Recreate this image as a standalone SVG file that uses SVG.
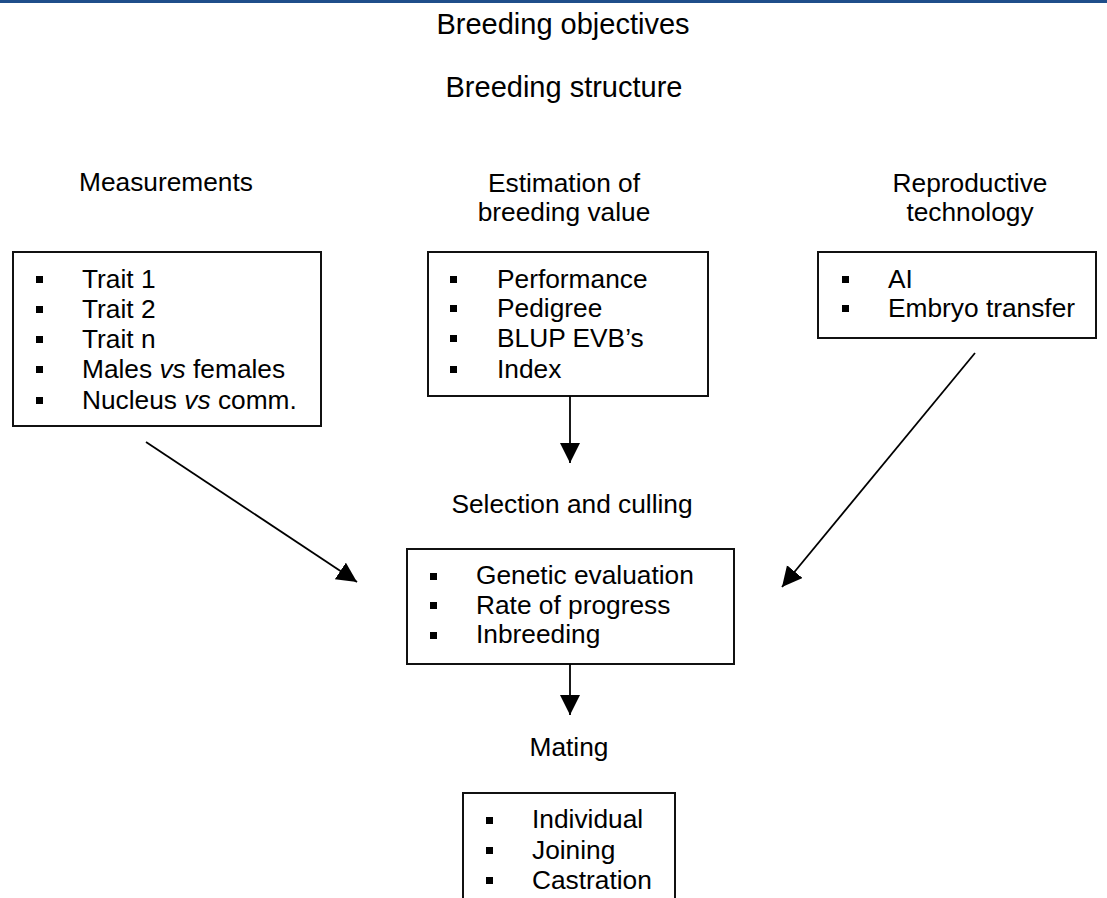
<svg xmlns="http://www.w3.org/2000/svg" width="1107" height="898" viewBox="0 0 1107 898">
<style>
text{font-family:"Liberation Sans",Arial,sans-serif;fill:#000}
.t{font-size:29px;text-anchor:middle}
.h{font-size:26.3px;text-anchor:middle}
.b{font-size:26.3px}
.box{fill:#fff;stroke:#111;stroke-width:2}
.bu{fill:#000}
.c{stroke:#000;stroke-width:1.8;fill:none}
</style>
<defs>
<marker id="ah" markerUnits="userSpaceOnUse" markerWidth="22" markerHeight="22" refX="20" refY="10" orient="auto">
<path d="M0,0 L20,10 L0,20 z" fill="#000"/>
</marker>
</defs>
<rect x="0" y="0" width="1107" height="3" fill="#1f4e8a"/>
<g id="titles">
<text class="t" x="563" y="34">Breeding objectives</text>
<text class="t" x="564" y="97">Breeding structure</text>
</g>
<g id="measurements">
<text class="h" x="166" y="191">Measurements</text>
<rect class="box" x="13" y="252" width="308" height="174"/>
<rect class="bu" x="36" y="276" width="7" height="7"/>
<rect class="bu" x="36" y="306" width="7" height="7"/>
<rect class="bu" x="36" y="336" width="7" height="7"/>
<rect class="bu" x="36" y="366" width="7" height="7"/>
<rect class="bu" x="36" y="397" width="7" height="7"/>
<text class="b" x="82" y="288">Trait 1</text>
<text class="b" x="82" y="318">Trait 2</text>
<text class="b" x="82" y="348">Trait n</text>
<text class="b" x="82" y="378">Males <tspan font-style="italic">vs</tspan> females</text>
<text class="b" x="82" y="409">Nucleus <tspan font-style="italic">vs</tspan> comm.</text>
</g>
<g id="estimation">
<text class="h" x="564" y="192">Estimation of</text>
<text class="h" x="564" y="221">breeding value</text>
<rect class="box" x="428" y="252" width="280" height="144"/>
<rect class="bu" x="450" y="276" width="7" height="7"/>
<rect class="bu" x="450" y="305" width="7" height="7"/>
<rect class="bu" x="450" y="335" width="7" height="7"/>
<rect class="bu" x="450" y="366" width="7" height="7"/>
<text class="b" x="497" y="288">Performance</text>
<text class="b" x="497" y="317">Pedigree</text>
<text class="b" x="497" y="347">BLUP EVB’s</text>
<text class="b" x="497" y="378">Index</text>
</g>
<g id="reproductive">
<text class="h" x="970" y="192">Reproductive</text>
<text class="h" x="970" y="221">technology</text>
<rect class="box" x="818" y="252" width="278" height="86"/>
<rect class="bu" x="842" y="276" width="7" height="7"/>
<rect class="bu" x="842" y="305" width="7" height="7"/>
<text class="b" x="888" y="288">AI</text>
<text class="b" x="888" y="317">Embryo transfer</text>
</g>
<g id="selection">
<text class="h" x="572" y="513">Selection and culling</text>
<rect class="box" x="407" y="549" width="327" height="115"/>
<rect class="bu" x="430" y="573" width="7" height="7"/>
<rect class="bu" x="430" y="602" width="7" height="7"/>
<rect class="bu" x="430" y="632" width="7" height="7"/>
<text class="b" x="476" y="584">Genetic evaluation</text>
<text class="b" x="476" y="614">Rate of progress</text>
<text class="b" x="476" y="643">Inbreeding</text>
</g>
<g id="mating">
<text class="h" x="569" y="756">Mating</text>
<rect class="box" x="463" y="793" width="212" height="120"/>
<rect class="bu" x="486" y="817" width="7" height="7"/>
<rect class="bu" x="486" y="847" width="7" height="7"/>
<rect class="bu" x="486" y="877" width="7" height="7"/>
<text class="b" x="532" y="828">Individual</text>
<text class="b" x="532" y="859">Joining</text>
<text class="b" x="532" y="889">Castration</text>
</g>
<g id="connectors">
<line class="c" x1="570" y1="396" x2="570" y2="463" marker-end="url(#ah)"/>
<line class="c" x1="146" y1="442" x2="357" y2="582" marker-end="url(#ah)"/>
<line class="c" x1="975" y1="353" x2="782" y2="587" marker-end="url(#ah)"/>
<line class="c" x1="570" y1="664" x2="570" y2="715" marker-end="url(#ah)"/>
</g>
</svg>
